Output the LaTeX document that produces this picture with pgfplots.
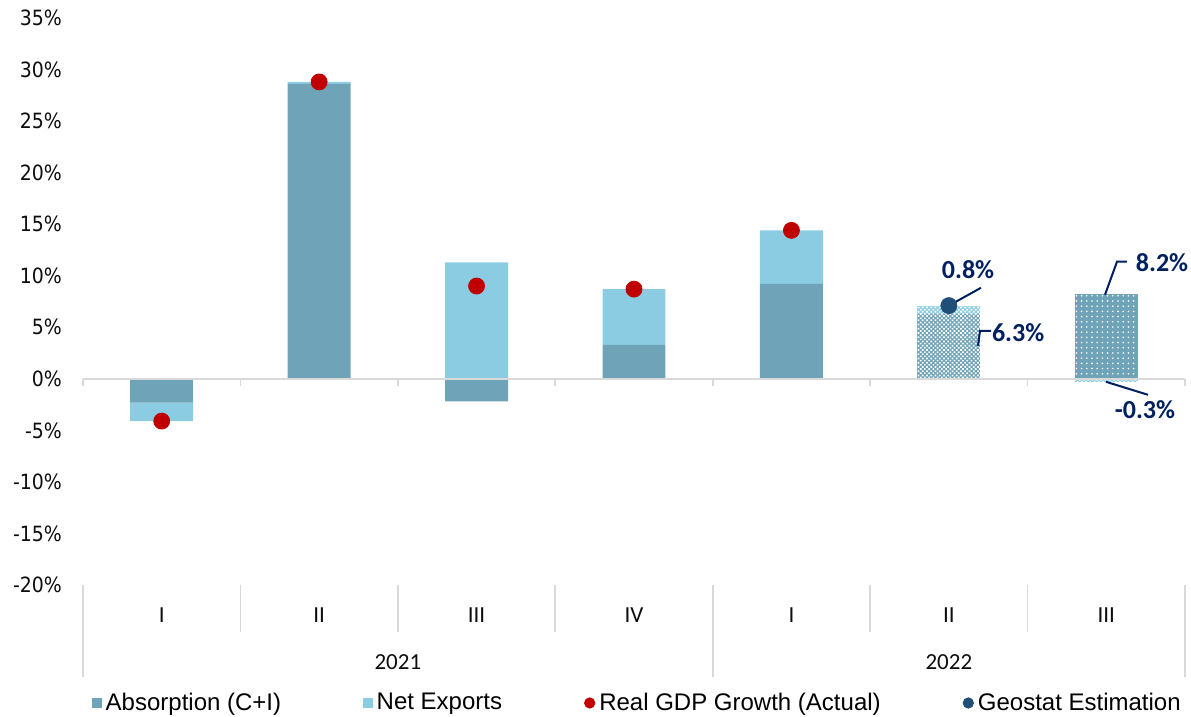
\documentclass[border=0pt]{standalone}
\usepackage{pgfplots}
\pgfplotsset{compat=1.18}
\usepackage{fontspec}
\setmainfont{Liberation Sans}
\newfontfamily\tickfont{DejaVu Sans Condensed}
\newfontfamily\calfont{Carlito}
\usetikzlibrary{patterns.meta}
\definecolor{absc}{RGB}{111,163,184}
\definecolor{nxc}{RGB}{139,204,226}
\definecolor{gdpc}{RGB}{192,0,0}
\definecolor{geoc}{RGB}{31,78,121}
\definecolor{navy}{RGB}{0,32,96}
\definecolor{gridc}{RGB}{217,217,217}
\definecolor{txt}{RGB}{13,13,13}

\pgfplotsset{
  common/.style={
    scale only axis, width=551pt, height=283.5pt,
    at={(0,0)}, anchor=south west,
    xmin=-0.5, xmax=6.5, ymin=-20, ymax=35,
    clip=false,
  }
}

\begin{document}
\begin{tikzpicture}
% ---------------- bars ----------------
\begin{axis}[
  common,
  ybar stacked, stack negative=separate, bar width=0.4,
  axis line style={draw=none},
  xtick=\empty,
  ytick={-20,-15,...,35},
  ytick style={draw=none},
  yticklabel={\pgfmathprintnumber{\tick}\%},
  /pgf/number format/assume math mode=true,
  yticklabel style={font=\tickfont\fontsize{10.5}{12}\selectfont, text=txt, anchor=east, xshift=-7pt},
  legend columns=4,
  legend style={draw=none, fill=none, at={(0.504,0)}, anchor=center, yshift=-59pt,
    font=\fontsize{12}{14}\selectfont, text=black,
    /tikz/every even column/.append style={column sep=39pt},
    /tikz/every odd column/.append style={column sep=0pt}},
]
% zero line and small ticks
\draw[gridc, line width=1.2pt] (axis cs:-0.5,0) -- (axis cs:6.5,0);
\draw[gridc, line width=0.8pt]
  (axis cs:-0.5,0) -- (axis cs:-0.5,-0.68)
  (axis cs:0.5,0) -- (axis cs:0.5,-0.68)
  (axis cs:1.5,0) -- (axis cs:1.5,-0.68)
  (axis cs:2.5,0) -- (axis cs:2.5,-0.68)
  (axis cs:3.5,0) -- (axis cs:3.5,-0.68)
  (axis cs:4.5,0) -- (axis cs:4.5,-0.68)
  (axis cs:5.5,0) -- (axis cs:5.5,-0.68)
  (axis cs:6.5,0) -- (axis cs:6.5,-0.68);
% category separators
\draw[gridc, line width=0.8pt]
  (axis cs:0.5,-20) -- (axis cs:0.5,-24.56)
  (axis cs:1.5,-20) -- (axis cs:1.5,-24.56)
  (axis cs:2.5,-20) -- (axis cs:2.5,-24.56)
  (axis cs:4.5,-20) -- (axis cs:4.5,-24.56)
  (axis cs:5.5,-20) -- (axis cs:5.5,-24.56)
  (axis cs:-0.5,-20) -- (axis cs:-0.5,-28.92)
  (axis cs:3.5,-20) -- (axis cs:3.5,-28.92)
  (axis cs:6.5,-20) -- (axis cs:6.5,-28.92);

\addplot[fill=absc, draw=none,
  legend image code/.code={\fill[absc] (0pt,-2.4pt) rectangle (4.8pt,2.4pt);}]
  coordinates {(0,-2.3) (1,28.6) (2,-2.2) (3,3.3) (4,9.2) (5,0) (6,0)};
\addlegendentry{Absorption (C+I)}
\addplot[fill=absc, draw=none, forget plot,
  postaction={pattern={Dots[distance=1.5pt, angle=45, radius=0.6pt]}, pattern color=white}]
  coordinates {(0,0) (1,0) (2,0) (3,0) (4,0) (5,6.3) (6,0)};
\addplot[fill=absc, draw=none, forget plot,
  postaction={pattern={Dots[distance=2.6pt, radius=0.45pt]}, pattern color=white}]
  coordinates {(0,0) (1,0) (2,0) (3,0) (4,0) (5,0) (6,8.2)};
\addplot[fill=nxc, draw=none,
  legend image code/.code={\fill[nxc] (0pt,-2.4pt) rectangle (4.8pt,2.4pt);}]
  coordinates {(0,-1.8) (1,0.2) (2,11.3) (3,5.4) (4,5.2) (5,0) (6,0)};
\addlegendentry{Net Exports}
\addplot[fill=nxc, draw=none, forget plot,
  postaction={pattern={Dots[distance=1.5pt, angle=45, radius=0.6pt]}, pattern color=white}]
  coordinates {(0,0) (1,0) (2,0) (3,0) (4,0) (5,0.8) (6,0)};
\addplot[fill=nxc, draw=none, forget plot,
  postaction={pattern={Dots[distance=1.5pt, angle=45, radius=0.6pt]}, pattern color=white}]
  coordinates {(0,0) (1,0) (2,0) (3,0) (4,0) (5,0) (6,-0.3)};
\addlegendimage{legend image code/.code={\fill[gdpc] (2.6pt,0pt) circle (2.6pt);}}
\addlegendentry{Real GDP Growth (Actual)}
\addlegendimage{legend image code/.code={\fill[geoc] (2.6pt,0pt) circle (2.6pt);}}
\addlegendentry{Geostat Estimation}
\end{axis}

% ---------------- points, labels ----------------
\begin{axis}[common, hide axis]
\addplot[only marks, mark=*, mark size=4pt, color=gdpc]
  coordinates {(0,-4.1) (1,28.8) (2,9.0) (3,8.7) (4,14.4)};
\addplot[only marks, mark=*, mark size=4pt, color=geoc]
  coordinates {(5,7.1)};
% category labels
\foreach \xx/\lab in {0/I,1/II,2/III,3/IV,4/I,5/II,6/III}{
  \edef\tmp{\noexpand\node[font=\noexpand\calfont\noexpand\fontsize{11.5}{13}\noexpand\selectfont, text=txt, anchor=center] at (axis cs:\xx,-20) [yshift=-15pt] {\lab};}\tmp
}
\node[font=\calfont\fontsize{11.5}{13}\selectfont, text=txt, anchor=center] at (axis cs:1.5,-20) [yshift=-38.5pt] {2021};
\node[font=\calfont\fontsize{11.5}{13}\selectfont, text=txt, anchor=center] at (axis cs:5,-20) [yshift=-38.5pt] {2022};
% annotations
\draw[navy, line width=1pt] (axis cs:5,7.1) -- (axis cs:5.204,8.83);
\node[font=\calfont\bfseries\fontsize{13}{15}\selectfont, text=navy] at (axis cs:5.122,10.58) {0.8\%};
\draw[navy, line width=1pt] (axis cs:5.185,3.2) -- (axis cs:5.198,4.66) -- (axis cs:5.268,4.66);
\node[font=\calfont\bfseries\fontsize{13}{15}\selectfont, text=navy] at (axis cs:5.44,4.47) {6.3\%};
\draw[navy, line width=1pt] (axis cs:5.992,8.16) -- (axis cs:6.068,11.36) -- (axis cs:6.131,11.36);
\node[font=\calfont\bfseries\fontsize{13}{15}\selectfont, text=navy] at (axis cs:6.354,11.26) {8.2\%};
\draw[navy, line width=1pt] (axis cs:5.998,-0.29) -- (axis cs:6.265,-1.55);
\node[font=\calfont\bfseries\fontsize{13}{15}\selectfont, text=navy] at (axis cs:6.246,-3.0) {-0.3\%};
\end{axis}
\pgfresetboundingbox
\path[use as bounding box] (-41.5pt,-66pt) rectangle (554pt,292.5pt);
\end{tikzpicture}
\end{document}
